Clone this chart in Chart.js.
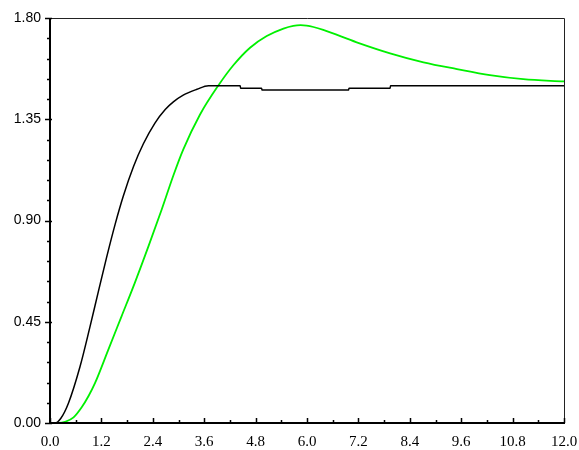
<!DOCTYPE html>
<html>
<head>
<meta charset="utf-8">
<script src="https://cdn.jsdelivr.net/npm/chart.js@4/dist/chart.umd.min.js"></script>
<style>
  html, body { margin: 0; padding: 0; background: #fff; }
  #wrap { width: 579px; height: 450px; }
</style>
</head>
<body>
<div id="wrap"><canvas id="stepChart"></canvas></div>
<script>
// black response (time, value)
const blackT = [0, 0.12, 0.25, 0.43, 0.70, 0.93, 1.13, 1.32, 1.52, 1.71, 1.95, 2.18, 2.45, 2.69, 2.88, 3.11, 3.43, 3.70, 4.44, 4.45, 4.94, 4.95, 6.97, 6.98, 7.94, 7.95, 12];
const blackY = [0, 0, 0.02, 0.088, 0.25, 0.425, 0.585, 0.735, 0.883, 1.008, 1.14, 1.241, 1.333, 1.393, 1.427, 1.457, 1.483, 1.499, 1.499, 1.488, 1.488, 1.48, 1.48, 1.488, 1.488, 1.499, 1.499];

// green response (time, value)
const greenT = [0, 0.2, 0.35, 0.55, 0.74, 0.90, 1.05, 1.36, 1.67, 1.98, 2.30, 2.61, 2.88, 3.11, 3.50, 3.93, 4.28, 4.67, 5.06, 5.45, 5.68, 5.85, 5.99, 6.15, 6.38, 7.16, 7.94, 8.72, 9.50, 10.27, 11.05, 12];
const greenY = [0, 0, 0.005, 0.025, 0.07, 0.12, 0.177, 0.325, 0.474, 0.623, 0.786, 0.95, 1.10, 1.215, 1.37, 1.50, 1.59, 1.668, 1.72, 1.753, 1.765, 1.768, 1.766, 1.76, 1.747, 1.692, 1.643, 1.603, 1.573, 1.546, 1.528, 1.518];

const xTicks = [0, 1.2, 2.4, 3.6, 4.8, 6.0, 7.2, 8.4, 9.6, 10.8, 12.0];
const yTicks = [0, 0.45, 0.90, 1.35, 1.80];
const xMinorStep = 0.6;
const yMinorStep = 0.09;

const toPoints = (ts, ys) => ts.map((t, i) => ({ x: t, y: ys[i] }));

// frame + tick marks drawn through the scales
const frameTicks = {
    id: 'frameTicks',
    afterDatasetsDraw(chart) {
        const { ctx, chartArea: a, scales: { x, y } } = chart;
        ctx.save();
        ctx.strokeStyle = '#222';
        ctx.lineWidth = 1;
        ctx.beginPath();
        ctx.moveTo(a.left, a.top + 0.5);
        ctx.lineTo(a.right + 0.5, a.top + 0.5);
        ctx.lineTo(a.right + 0.5, a.bottom);
        ctx.stroke();

        ctx.strokeStyle = '#000';
        ctx.lineWidth = 2;
        ctx.beginPath();
        ctx.moveTo(a.left, a.top);
        ctx.lineTo(a.left, a.bottom);
        ctx.lineTo(a.right + 1, a.bottom);
        ctx.stroke();

        ctx.lineWidth = 1.5;
        ctx.beginPath();
        for (let i = 0; i * xMinorStep <= 12 + 1e-9; i++) {
            const px = Math.round(x.getPixelForValue(i * xMinorStep)) + 0.5;
            const len = i % 2 === 0 ? 5 : 3;
            ctx.moveTo(px, a.bottom);
            ctx.lineTo(px, a.bottom - len);
        }
        for (let i = 0; i * yMinorStep <= 1.8 + 1e-9; i++) {
            const py = Math.round(y.getPixelForValue(i * yMinorStep)) + 0.5;
            const major = i % 5 === 0;
            ctx.moveTo(a.left - (major ? 5 : 3), py);
            ctx.lineTo(a.left + (major ? 2 : 1), py);
        }
        ctx.stroke();
        ctx.restore();
    }
};

const ctx = document.getElementById('stepChart').getContext('2d');

new Chart(ctx, {
    type: 'line',
    data: {
        datasets: [{
            label: 'black',
            data: toPoints(blackT, blackY),
            borderColor: '#000000',
            borderWidth: 1.5,
            pointRadius: 0,
            cubicInterpolationMode: 'monotone',
        }, {
            label: 'green',
            data: toPoints(greenT, greenY),
            borderColor: '#00f000',
            borderWidth: 1.8,
            pointRadius: 0,
            cubicInterpolationMode: 'monotone',
        }],
    },
    options: {
        responsive: true,
        maintainAspectRatio: false,
        animation: false,
        layout: { padding: { top: 18, right: 15, left: 0, bottom: 0 } },
        plugins: {
            legend: { display: false },
            tooltip: { enabled: false },
        },
        scales: {
            x: {
                type: 'linear',
                min: 0,
                max: 12,
                grid: { display: false, drawTicks: false },
                border: { display: false },
                afterBuildTicks: (scale) => { scale.ticks = xTicks.map(v => ({ value: v })); },
                afterFit: (scale) => {
                    scale.height = 27;
                    scale.paddingLeft = 0;
                    scale.paddingRight = 0;
                },
                ticks: {
                    padding: 10,
                    color: '#000',
                    font: { family: 'Liberation Serif', size: 15 },
                    maxRotation: 0,
                    autoSkip: false,
                    callback: (v) => Number(v).toFixed(1),
                },
            },
            y: {
                min: 0,
                max: 1.8,
                grid: { display: false, drawTicks: false },
                border: { display: false },
                afterBuildTicks: (scale) => { scale.ticks = yTicks.map(v => ({ value: v })); },
                afterFit: (scale) => {
                    scale.width = 50;
                    scale.paddingTop = 0;
                    scale.paddingBottom = 0;
                },
                ticks: {
                    padding: 9,
                    color: '#000',
                    font: { family: 'Liberation Sans', size: 14 },
                    autoSkip: false,
                    callback: (v) => Number(v).toFixed(2),
                },
            },
        },
    },
    plugins: [frameTicks],
});
</script>
</body>
</html>
